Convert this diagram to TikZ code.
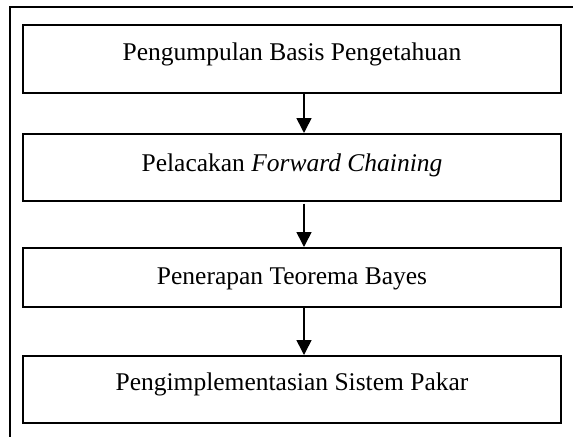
\documentclass[tikz,border=0pt]{standalone}
\usepackage{fontspec}
\setmainfont{Liberation Serif}
\usetikzlibrary{arrows.meta}
\tikzset{>={Triangle[length=15pt,width=15pt]}}
\tikzset{
  tahap/.style 2 args={draw,line width=1.7pt,minimum width=538pt,inner xsep=0pt,
    inner ysep=0pt,anchor=north,text height=#1,text depth=#2,
    font=\fontsize{25.5}{30}\selectfont},
  panah/.style={->,line width=1.6pt}
}

\begin{document}
\begin{tikzpicture}[x=1pt,y=-1pt]
\useasboundingbox (0,0) rectangle (573,437);
\draw[line width=1.2pt] (573,7) -- (10,7) -- (10,437);
\coordinate (ax) at (304,0);
\node[tahap={36pt}{32pt}] (pengumpulan) at (292,24) {Pengumpulan Basis Pengetahuan};
\node[tahap={38pt}{29pt}] (pelacakan) at (292,133) {Pelacakan \textit{Forward Chaining}};
\node[tahap={37pt}{22pt}] (penerapan) at (292,247) {Penerapan Teorema Bayes};
\node[tahap={35pt}{32pt}] (implementasi) at (292,355) {Pengimplementasian Sistem Pakar};
\draw[panah] (pengumpulan.south -| ax) -- (pelacakan.north -| ax);
\draw[panah] ([yshift=-2pt]pelacakan.south -| ax) -- (penerapan.north -| ax);
\draw[panah] (penerapan.south -| ax) -- (implementasi.north -| ax);
\end{tikzpicture}
\end{document}
